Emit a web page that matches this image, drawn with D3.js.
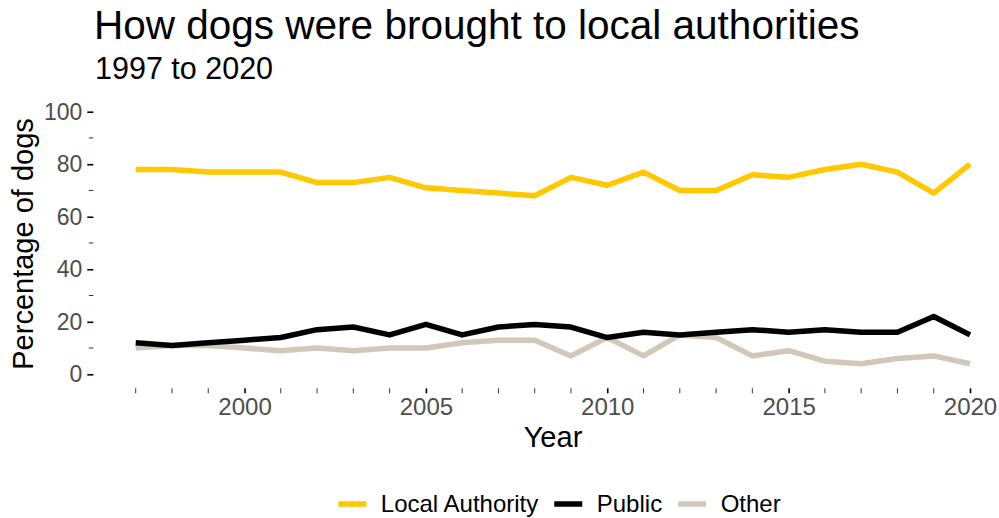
<!DOCTYPE html>
<html>
<head>
<meta charset="utf-8">
<script src="https://cdn.jsdelivr.net/npm/d3@7"></script>
<style>
  body { margin: 0; background: #fff; }
  svg { font-family: "Liberation Sans", Arial, sans-serif; }
</style>
</head>
<body>
<svg width="999" height="518"></svg>
<script>
// данные
const years = d3.range(1997, 2021);
const localAuthority = [78, 78, 77, 77, 77, 73, 73, 75, 71, 70, 69, 68, 75, 72, 77, 70, 70, 76, 75, 78, 80, 77, 69, 80];
const publicValues   = [12, 11, 12, 13, 14, 17, 18, 15, 19, 15, 18, 19, 18, 14, 16, 15, 16, 17, 16, 17, 16, 16, 22, 15];
const otherValues    = [10, 11, 11, 10, 9, 10, 9, 10, 10, 12, 13, 13, 7, 14, 7, 15, 14, 7, 9, 5, 4, 6, 7, 4];
const seriesNames  = ["Local Authority", "Public", "Other"];
const seriesColors = ["#ffc800", "#000000", "#d2c8b9"];
const yMajor = [0, 20, 40, 60, 80, 100];
const yMinor = [10, 30, 50, 70, 90];
const xMajor = [2000, 2005, 2010, 2015, 2020];

const svg = d3.select("svg");

const x = d3.scaleLinear().domain([1997, 2020]).range([135.7, 970]);
const y = d3.scaleLinear().domain([0, 100]).range([374.3, 111.7]);

// заголовки
svg.append("text").attr("x", 94).attr("y", 39)
    .attr("font-size", 40.5).attr("fill", "#000")
    .text("How dogs were brought to local authorities");
svg.append("text").attr("x", 95).attr("y", 79)
    .attr("font-size", 30.5).attr("fill", "#000")
    .text("1997 to 2020");

// ось Y
const axisY = svg.append("g").attr("transform", "translate(93.3,0)");
axisY.call(d3.axisLeft(y).tickValues(yMajor).tickSize(6).tickPadding(5));
axisY.select(".domain").remove();
axisY.selectAll(".tick line").attr("stroke", "#000").attr("stroke-width", 1.6);
axisY.selectAll(".tick text").attr("font-size", 23).attr("fill", "#4d4d4d")
    .attr("font-family", "Liberation Sans, Arial, sans-serif");
axisY.selectAll(".minor").data(yMinor).enter().append("line")
    .attr("class", "minor")
    .attr("x1", -4.5).attr("x2", 0)
    .attr("y1", d => y(d)).attr("y2", d => y(d))
    .attr("stroke", "#333").attr("stroke-width", 1);

// ось X
const axisX = svg.append("g").attr("transform", "translate(0,388.3)");
axisX.call(d3.axisBottom(x).tickValues(xMajor).tickSize(5).tickPadding(5).tickFormat(d3.format("d")));
axisX.select(".domain").remove();
axisX.selectAll(".tick line").attr("stroke", "#000").attr("stroke-width", 1.6);
axisX.selectAll(".tick text").attr("font-size", 24).attr("fill", "#4d4d4d")
    .attr("font-family", "Liberation Sans, Arial, sans-serif");
axisX.selectAll(".minor").data(years.filter(d => !xMajor.includes(d))).enter().append("line")
    .attr("class", "minor")
    .attr("x1", d => x(d)).attr("x2", d => x(d))
    .attr("y1", 0).attr("y2", 5)
    .attr("stroke", "#333").attr("stroke-width", 1);

// подписи осей
svg.append("text").attr("x", 553).attr("y", 447)
    .attr("text-anchor", "middle").attr("font-size", 29)
    .text("Year");
svg.append("text")
    .attr("transform", "translate(33,244) rotate(-90)")
    .attr("text-anchor", "middle").attr("font-size", 29)
    .text("Percentage of dogs");

// линии
const line = d3.line()
    .x((d, i) => x(years[i]))
    .y(d => y(d));
const allSeries = [localAuthority, publicValues, otherValues];
// рисуем в обратном порядке, чтобы жёлтая и чёрная были сверху
[2, 1, 0].forEach(k => {
    svg.append("path")
        .attr("d", line(allSeries[k]))
        .attr("fill", "none")
        .attr("stroke", seriesColors[k])
        .attr("stroke-width", 5.5)
        .attr("stroke-linejoin", "round");
});

// легенда
const legend = svg.append("g");
let posX = 0;
seriesNames.forEach((name, i) => {
    const item = legend.append("g").attr("transform", `translate(${posX},0)`);
    item.append("line")
        .attr("x1", 0).attr("x2", 28)
        .attr("y1", 504).attr("y2", 504)
        .attr("stroke", seriesColors[i]).attr("stroke-width", 5.5);
    const t = item.append("text").attr("x", 42.5).attr("y", 512)
        .attr("font-size", 24).text(name);
    posX += 42.5 + t.node().getComputedTextLength() + 16;
});
const legendWidth = posX - 16;
legend.attr("transform", `translate(${559.5 - legendWidth / 2},0)`);
</script>
</body>
</html>
